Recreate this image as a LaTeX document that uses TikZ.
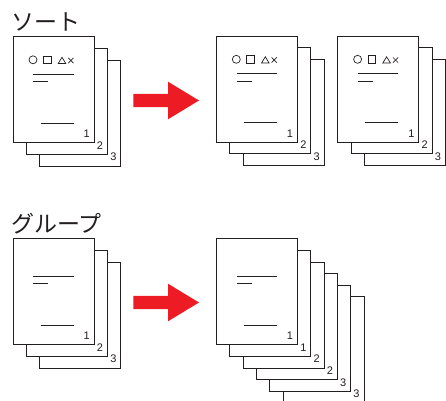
\documentclass[tikz,border=0pt]{standalone}
\usepackage{fontspec}
\setmainfont{Liberation Sans}
\newfontfamily\jpfont{Noto Sans CJK JP}
\usetikzlibrary{calc}
\definecolor{ink}{HTML}{231F20}
\definecolor{arrowred}{HTML}{ED1C24}
\tikzset{
  sheet/.style={draw=ink, fill=white, line width=0.8pt, rectangle, inner sep=0pt,
    minimum width=81pt, minimum height=106pt, anchor=north west},
  pnum/.style={font=\fontsize{11}{13}\selectfont, inner sep=0pt, anchor=base east, text=ink},
  rule/.style={draw=ink, line width=0.8pt},
  sym/.style={draw=ink, line width=0.7pt},
  title/.style={font=\jpfont\fontsize{23}{28}\selectfont, inner sep=0pt, anchor=west, text=ink},
  bigarrow/.style={fill=arrowred},
}
\newcommand\sheetat[4]{%
  \node[sheet] (#1) at (#2,#3) {};
  \node[pnum] (#1-n) at ($(#1.south east)+(-4.5,-5.5)$) {#4};
}
\newcommand\sheetlines[1]{%
  \draw[rule] ($(#1.north west)+(20.5,38)$) -- ++(40.5,0);
  \draw[rule] ($(#1.north west)+(20.5,45.5)$) -- ++(15,0);
  \draw[rule] ($(#1.north west)+(28,87)$) -- ++(33,0);
}
\newcommand\sheetsyms[1]{%
  \draw[sym] ($(#1.north west)+(20.3,23.5)$) circle (4pt);
  \draw[sym] ($(#1.north west)+(30.8,19.8)$) rectangle ++(7.4,7.4);
  \draw[sym] ($(#1.north west)+(45.5,27.2)$) -- ++(7.6,0) -- ++(-3.8,-6.2) -- cycle;
  \draw[sym] ($(#1.north west)+(55.6,21.6)$) -- ++(5.2,5.2);
  \draw[sym] ($(#1.north west)+(55.6,26.8)$) -- ++(5.2,-5.2);
}
\newcommand\redarrow[1]{%
  \fill[bigarrow] (133.3,#1-6.6) -- (168,#1-6.6) -- (168,#1-18.8) -- (199,#1)
    -- (168,#1+18.8) -- (168,#1+6.6) -- (133.3,#1+6.6) -- cycle;
}
\begin{document}
\begin{tikzpicture}[x=1pt,y=-1pt]
\useasboundingbox (0,0) rectangle (446,400);
\clip (0,0) rectangle (446,400);

\node[title] (t1) at (11,22) {ソート};
\node[title] (t2) at (11,223.5) {グループ};

% top left stack
\foreach \k/\n in {2/3,1/2,0/1} {\sheetat{a\n}{12.7+13.3*\k}{36.3+11.6*\k}{\n}}
\sheetsyms{a1}\sheetlines{a1}

% top right stacks
\foreach \k/\n in {2/3,1/2,0/1} {\sheetat{b\n}{216+13.3*\k}{35.8+11.6*\k}{\n}}
\sheetsyms{b1}\sheetlines{b1}
\foreach \k/\n in {2/3,1/2,0/1} {\sheetat{c\n}{337.3+13.3*\k}{35.8+11.6*\k}{\n}}
\sheetsyms{c1}\sheetlines{c1}

\redarrow{100.5}

% bottom left stack
\foreach \k/\n in {2/3,1/2,0/1} {\sheetat{d\n}{12.7+13.3*\k}{238.3+11.6*\k}{\n}}
\sheetlines{d1}

% bottom right stack
\foreach \k/\n in {5/3,4/3,3/2,2/2,1/1,0/1} {\sheetat{e\k}{216+13.3*\k}{238.3+11.6*\k}{\n}}
\sheetlines{e0}

\redarrow{302.5}
\end{tikzpicture}
\end{document}
